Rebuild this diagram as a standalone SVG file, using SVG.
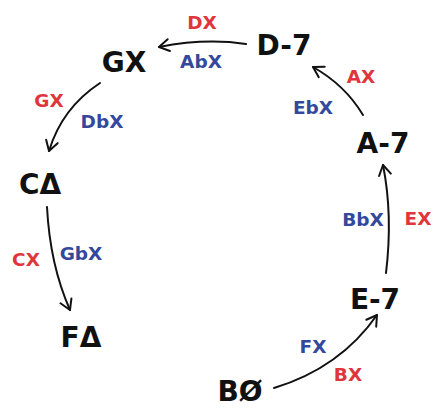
<svg xmlns="http://www.w3.org/2000/svg" width="433" height="408" viewBox="0 0 433 408">
<style>
.node{font-family:"DejaVu Sans","Liberation Sans",sans-serif;font-weight:bold;font-size:28px;fill:#111;text-anchor:middle}
.lbl{font-family:"DejaVu Sans","Liberation Sans",sans-serif;font-weight:bold;font-size:18.5px;text-anchor:middle}
.r{fill:#e0363b}
.b{fill:#34489c}
.edge{fill:none;stroke:#111;stroke-width:2;stroke-linecap:round}
</style>
<defs>
<marker id="ah" markerWidth="16" markerHeight="16" refX="13" refY="8" orient="auto" markerUnits="userSpaceOnUse">
<path d="M3 2 L13 8 L3 14" fill="none" stroke="#111" stroke-width="2" stroke-linecap="round" stroke-linejoin="round"/>
</marker>
</defs>
<rect width="433" height="408" fill="#fff"/>
<g id="connectors">
<path class="edge" d="M246 44 Q205 38 159 47" marker-end="url(#ah)"/>
<path class="edge" d="M100 83 Q62 108 49 151" marker-end="url(#ah)"/>
<path class="edge" d="M47 207 Q50 265 70 310" marker-end="url(#ah)"/>
<path class="edge" d="M274 388 Q340 368 377 315" marker-end="url(#ah)"/>
<path class="edge" d="M386 273 Q393 215 383 165" marker-end="url(#ah)"/>
<path class="edge" d="M363 115 Q345 85 313 67" marker-end="url(#ah)"/>
</g>
<g id="labels">
<text class="lbl r" x="202" y="29">DX</text>
<text class="lbl b" x="201" y="68">AbX</text>
<text class="lbl r" x="49" y="107">GX</text>
<text class="lbl b" x="102" y="128">DbX</text>
<text class="lbl r" x="26" y="266">CX</text>
<text class="lbl b" x="81" y="260">GbX</text>
<text class="lbl r" x="361" y="83">AX</text>
<text class="lbl b" x="313" y="114">EbX</text>
<text class="lbl b" x="363" y="226">BbX</text>
<text class="lbl r" x="418" y="225">EX</text>
<text class="lbl b" x="313" y="353">FX</text>
<text class="lbl r" x="348" y="381">BX</text>
</g>
<g id="node-D7"><text class="node" x="284" y="55">D-7</text></g>
<g id="node-GX"><text class="node" x="124" y="72">GX</text></g>
<g id="node-CD"><text class="node" x="40" y="194">CΔ</text></g>
<g id="node-FD"><text class="node" x="81" y="347">FΔ</text></g>
<g id="node-BO"><text class="node" x="240" y="401">BØ</text></g>
<g id="node-E7"><text class="node" x="375" y="309">E-7</text></g>
<g id="node-A7"><text class="node" x="383" y="153">A-7</text></g>
</svg>
